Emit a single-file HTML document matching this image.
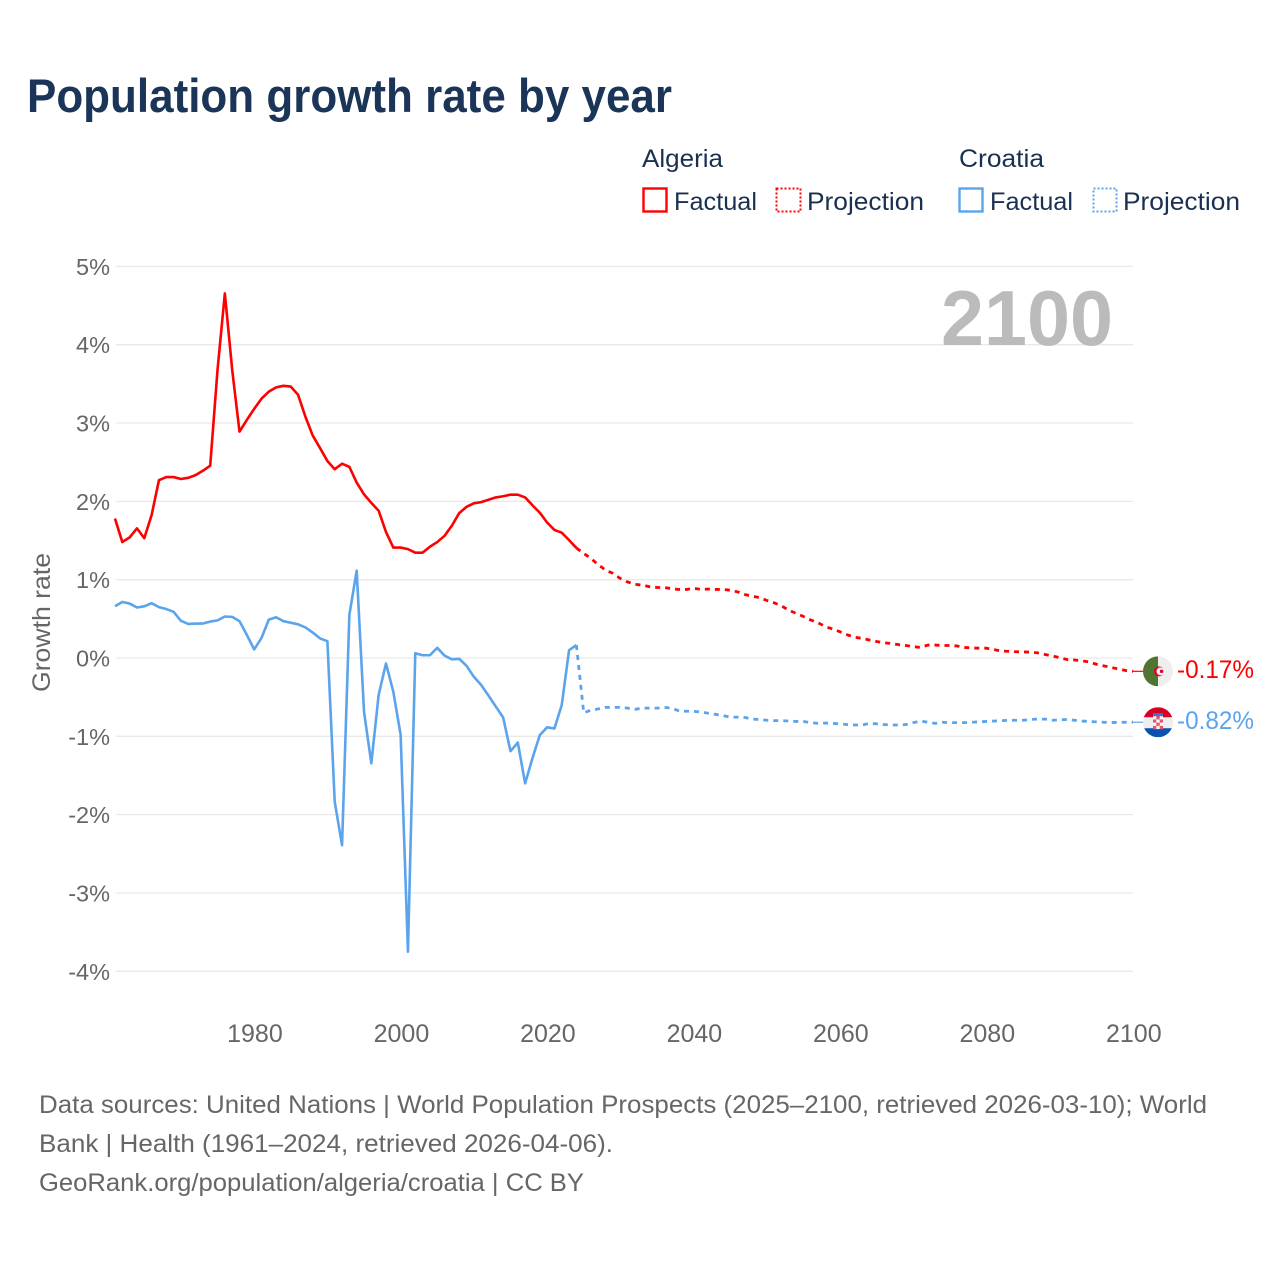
<!DOCTYPE html>
<html lang="en">
<head>
<meta charset="utf-8">
<title>Population growth rate by year</title>
<style>
html,body{margin:0;padding:0;background:#fff;width:1280px;height:1280px;overflow:hidden}
svg{display:block}
text{font-family:"Liberation Sans",sans-serif}
</style>
</head>
<body>
<svg id="chart" width="1280" height="1280" viewBox="0 0 1280 1280" xmlns="http://www.w3.org/2000/svg">
  <rect x="0" y="0" width="1280" height="1280" fill="#fff"/>
  <text x="27" y="112" font-size="47" font-weight="700" fill="#1a3557" textLength="645" lengthAdjust="spacingAndGlyphs">Population growth rate by year</text>

  <g fill="#1a3050" font-size="25">
    <text x="642" y="167" textLength="81" lengthAdjust="spacingAndGlyphs">Algeria</text>
    <rect x="643.5" y="188.5" width="23" height="23" fill="none" stroke="#ff0000" stroke-width="2.4"/>
    <text x="674" y="210" textLength="83" lengthAdjust="spacingAndGlyphs">Factual</text>
    <rect x="776.5" y="188.5" width="24" height="23" fill="none" stroke="#ff0000" stroke-width="2" stroke-dasharray="2 2"/>
    <text x="807" y="210" textLength="117" lengthAdjust="spacingAndGlyphs">Projection</text>
    <text x="959" y="167" textLength="85" lengthAdjust="spacingAndGlyphs">Croatia</text>
    <rect x="959.5" y="188.5" width="23" height="23" fill="none" stroke="#5ba4ec" stroke-width="2.4"/>
    <text x="990" y="210" textLength="83" lengthAdjust="spacingAndGlyphs">Factual</text>
    <rect x="1093.5" y="188.5" width="23" height="23" fill="none" stroke="#5ba4ec" stroke-width="2" stroke-dasharray="2 2"/>
    <text x="1123" y="210" textLength="117" lengthAdjust="spacingAndGlyphs">Projection</text>
  </g>

  <g id="grid"></g>
  <g id="yticks"></g>
  <g id="xticks"></g>

  <text transform="translate(50,692) rotate(-90)" font-size="25" fill="#666" textLength="139" lengthAdjust="spacingAndGlyphs">Growth rate</text>
  <text x="941" y="345" font-size="78" font-weight="700" fill="#bbbbbb" textLength="172" lengthAdjust="spacingAndGlyphs">2100</text>

  <g id="series" fill="none" stroke-linejoin="round"></g>

  <g id="flag-algeria">
    <clipPath id="clip-dz"><circle cx="0" cy="0" r="15"/></clipPath>
    <g clip-path="url(#clip-dz)">
      <rect x="-15" y="-15" width="30" height="30" fill="#eeeeee"/>
      <rect x="-15" y="-15" width="15" height="30" fill="#4f7530"/>
      <circle cx="1" cy="0" r="5" fill="#e00030"/>
      <circle cx="2.5" cy="0" r="4" fill="#eeeeee"/>
      <circle cx="3.6" cy="0" r="1.7" fill="#e00030"/>
    </g>
  </g>
  <g id="flag-croatia">
    <clipPath id="clip-hr"><circle cx="0" cy="0" r="15"/></clipPath>
    <g clip-path="url(#clip-hr)">
      <rect x="-15" y="-15" width="30" height="30" fill="#eeeeee"/>
      <rect x="-15" y="-15" width="30" height="10" fill="#d80027"/>
      <rect x="-15" y="6" width="30" height="9" fill="#0a52b0"/>
      <rect x="-5" y="-9" width="10" height="3" fill="#3a78c8"/>
      <rect x="-5" y="-6" width="10" height="13" fill="#e0576f"/>
      <rect x="-5" y="-6" width="3.3" height="3.2" fill="#f6f6f6"/>
      <rect x="1.7" y="-6" width="3.3" height="3.2" fill="#f6f6f6"/>
      <rect x="-1.7" y="-2.8" width="3.4" height="3.2" fill="#f6f6f6"/>
      <rect x="-5" y="0.4" width="3.3" height="3.2" fill="#f6f6f6"/>
      <rect x="1.7" y="0.4" width="3.3" height="3.2" fill="#f6f6f6"/>
      <rect x="-1.7" y="3.6" width="3.4" height="3.2" fill="#f6f6f6"/>
    </g>
  </g>
  <text id="label-algeria" x="1177" font-size="25" fill="#ff0000" textLength="77" lengthAdjust="spacingAndGlyphs"></text>
  <text id="label-croatia" x="1177" font-size="25" fill="#5ba4ec" textLength="77" lengthAdjust="spacingAndGlyphs"></text>

  <g font-size="25" fill="#666">
    <text x="39" y="1113" textLength="1168" lengthAdjust="spacingAndGlyphs">Data sources: United Nations | World Population Prospects (2025–2100, retrieved 2026-03-10); World</text>
    <text x="39" y="1152" textLength="574" lengthAdjust="spacingAndGlyphs">Bank | Health (1961–2024, retrieved 2026-04-06).</text>
    <text x="39" y="1191" textLength="545" lengthAdjust="spacingAndGlyphs">GeoRank.org/population/algeria/croatia | CC BY</text>
  </g>
</svg>
<script>
const yTicks = [5, 4, 3, 2, 1, 0, -1, -2, -3, -4];
const xTicks = [1980, 2000, 2020, 2040, 2060, 2080, 2100];
const factualYears = [1961,1962,1963,1964,1965,1966,1967,1968,1969,1970,1971,1972,1973,1974,1975,1976,1977,1978,1979,1980,1981,1982,1983,1984,1985,1986,1987,1988,1989,1990,1991,1992,1993,1994,1995,1996,1997,1998,1999,2000,2001,2002,2003,2004,2005,2006,2007,2008,2009,2010,2011,2012,2013,2014,2015,2016,2017,2018,2019,2020,2021,2022,2023,2024];
const projectionYears = [2025,2026,2027,2028,2029,2030,2031,2032,2033,2034,2035,2036,2037,2038,2039,2040,2041,2042,2043,2044,2045,2046,2047,2048,2049,2050,2051,2052,2053,2054,2055,2056,2057,2058,2059,2060,2061,2062,2063,2064,2065,2066,2067,2068,2069,2070,2071,2072,2073,2074,2075,2076,2077,2078,2079,2080,2081,2082,2083,2084,2085,2086,2087,2088,2089,2090,2091,2092,2093,2094,2095,2096,2097,2098,2099,2100];
const algeriaFactual = [1.78,1.48,1.54,1.655,1.53,1.825,2.27,2.31,2.31,2.285,2.30,2.335,2.39,2.455,3.68,4.655,3.68,2.89,3.04,3.18,3.31,3.40,3.455,3.475,3.465,3.36,3.08,2.84,2.68,2.515,2.41,2.48,2.44,2.24,2.09,1.98,1.88,1.61,1.41,1.41,1.39,1.345,1.345,1.42,1.48,1.56,1.69,1.85,1.93,1.975,1.99,2.02,2.05,2.065,2.085,2.085,2.05,1.95,1.855,1.73,1.635,1.60,1.505,1.405];
const algeriaProjection = [1.335,1.27,1.19,1.12,1.08,1.015,0.97,0.94,0.93,0.91,0.90,0.90,0.885,0.875,0.875,0.89,0.875,0.88,0.875,0.875,0.865,0.845,0.81,0.79,0.77,0.735,0.705,0.665,0.61,0.57,0.53,0.485,0.45,0.40,0.37,0.335,0.295,0.265,0.25,0.23,0.21,0.195,0.185,0.17,0.16,0.145,0.135,0.165,0.165,0.16,0.16,0.153,0.135,0.128,0.125,0.125,0.107,0.09,0.085,0.08,0.078,0.075,0.065,0.045,0.025,0.005,-0.02,-0.025,-0.035,-0.05,-0.08,-0.10,-0.12,-0.14,-0.16,-0.17];
const croatiaFactual = [0.66,0.715,0.695,0.645,0.66,0.70,0.65,0.625,0.59,0.475,0.435,0.44,0.44,0.465,0.48,0.53,0.525,0.47,0.295,0.11,0.255,0.49,0.52,0.47,0.45,0.43,0.39,0.325,0.25,0.215,-1.835,-2.39,0.55,1.115,-0.685,-1.345,-0.47,-0.07,-0.43,-0.98,-3.75,0.06,0.035,0.035,0.13,0.03,-0.017,-0.01,-0.10,-0.24,-0.345,-0.48,-0.62,-0.76,-1.19,-1.08,-1.6,-1.28,-0.985,-0.885,-0.90,-0.60,0.10,0.165];
const croatiaProjection = [-0.70,-0.665,-0.65,-0.63,-0.63,-0.63,-0.64,-0.655,-0.64,-0.64,-0.64,-0.63,-0.64,-0.675,-0.68,-0.68,-0.69,-0.705,-0.72,-0.735,-0.755,-0.755,-0.76,-0.78,-0.785,-0.795,-0.80,-0.80,-0.805,-0.81,-0.81,-0.825,-0.835,-0.83,-0.835,-0.84,-0.85,-0.855,-0.855,-0.835,-0.84,-0.85,-0.855,-0.855,-0.85,-0.825,-0.805,-0.82,-0.835,-0.82,-0.825,-0.825,-0.825,-0.82,-0.815,-0.81,-0.805,-0.80,-0.795,-0.795,-0.795,-0.785,-0.78,-0.78,-0.795,-0.79,-0.785,-0.795,-0.805,-0.81,-0.815,-0.82,-0.825,-0.82,-0.82,-0.82];

const NS = 'http://www.w3.org/2000/svg';
function xScale(year) { return 115 + (year - 1961) * (1133 - 115) / (2100 - 1961); }
function yScale(v) { return 658 - v * 78.33; }
function linePath(years, values) {
  return values.map(function (v, i) {
    return (i ? 'L' : 'M') + xScale(years[i]).toFixed(2) + ' ' + yScale(v).toFixed(2);
  }).join(' ');
}

const gridGroup = document.getElementById('grid');
const yGroup = document.getElementById('yticks');
yTicks.forEach(function (t) {
  const line = document.createElementNS(NS, 'line');
  
  
  line.setAttribute('x1', 116);
  line.setAttribute('x2', 1133);
  line.setAttribute('y1', yScale(t));
  line.setAttribute('y2', yScale(t));
  line.setAttribute('stroke', '#e9e9e9');
  line.setAttribute('stroke-width', '1.3');
  gridGroup.appendChild(line);
  const label = document.createElementNS(NS, 'text');
  
  
  label.setAttribute('x', 110);
  label.setAttribute('y', yScale(t) + 8.5);
  label.setAttribute('text-anchor', 'end');
  label.setAttribute('font-size', '23.5');
  label.setAttribute('fill', '#666');
  label.textContent = t + '%';
  yGroup.appendChild(label);
});

const xGroup = document.getElementById('xticks');
xTicks.forEach(function (t) {
  const label = document.createElementNS(NS, 'text');
  
  
  label.setAttribute('x', xScale(t) + 0.8);
  label.setAttribute('y', 1042);
  label.setAttribute('text-anchor', 'middle');
  label.setAttribute('font-size', '25');
  label.setAttribute('fill', '#666');
  label.textContent = String(t);
  xGroup.appendChild(label);
});

const seriesGroup = document.getElementById('series');
function addFactual(name, values, color) {
  const p = document.createElementNS(NS, 'path');
  
  
  p.setAttribute('d', linePath(factualYears, values));
  p.setAttribute('stroke', color);
  p.setAttribute('stroke-width', '2.6');
  seriesGroup.appendChild(p);
}
function addProjection(name, lastFactual, values, color) {
  const p = document.createElementNS(NS, 'path');
  
  
  p.setAttribute('d', linePath([factualYears[factualYears.length - 1]].concat(projectionYears), [lastFactual].concat(values)));
  p.setAttribute('stroke', color);
  p.setAttribute('stroke-width', '2.8');
  p.setAttribute('stroke-dasharray', '5 5');
  seriesGroup.appendChild(p);
}
function addConnector(name, value, color) {
  const c = document.createElementNS(NS, 'line');
  
  
  c.setAttribute('x1', xScale(2100));
  c.setAttribute('x2', 1144);
  c.setAttribute('y1', yScale(value));
  c.setAttribute('y2', yScale(value));
  c.setAttribute('stroke', color);
  c.setAttribute('stroke-width', '1.2');
  seriesGroup.appendChild(c);
}
addFactual('line-algeria-factual', algeriaFactual, '#ff0000');
addProjection('line-algeria-projection', algeriaFactual[algeriaFactual.length - 1], algeriaProjection, '#ff0000');
addFactual('line-croatia-factual', croatiaFactual, '#5ba4ec');
addProjection('line-croatia-projection', croatiaFactual[croatiaFactual.length - 1], croatiaProjection, '#5ba4ec');

const algeriaEnd = algeriaProjection[algeriaProjection.length - 1];
const croatiaEnd = croatiaProjection[croatiaProjection.length - 1];
addConnector('connector-algeria', algeriaEnd, '#ff0000');
addConnector('connector-croatia', croatiaEnd, '#5ba4ec');

document.getElementById('flag-algeria').setAttribute('transform', 'translate(1158,' + yScale(algeriaEnd) + ')');
document.getElementById('flag-croatia').setAttribute('transform', 'translate(1158,' + yScale(croatiaEnd) + ')');
const la = document.getElementById('label-algeria');
la.setAttribute('y', yScale(algeriaEnd) + 6.5);
la.textContent = algeriaEnd.toFixed(2) + '%';
const lc = document.getElementById('label-croatia');
lc.setAttribute('y', yScale(croatiaEnd) + 7);
lc.textContent = croatiaEnd.toFixed(2) + '%';
</script>
</body>
</html>
